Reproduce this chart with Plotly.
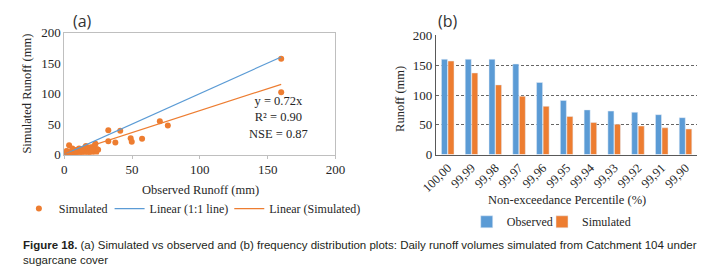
import plotly.graph_objects as go

# ---------------- data ----------------
# Panel (a): observed vs simulated daily runoff (mm)
obs_runoff = [160, 160, 70.5, 76.4, 32.5, 41.3, 32.5, 37.7, 49, 49.8, 57.4,
              3.6, 16, 23, 25,
              0.5, 1, 1.5, 2, 2.5, 3, 4, 4.5, 5, 5.5, 6, 6.5, 7, 7.5, 8, 8.5,
              9, 9.5, 10, 10.5, 11, 12, 12.5, 13, 14, 14.5, 15, 15.5, 16.5,
              17, 17.5, 18, 18.5, 19, 19.5, 20, 20.5, 21, 21.5, 22, 22.5,
              23.5, 24, 1, 2, 0.3, 6, 8, 11, 13, 3, 5, 18, 20, 21]
sim_runoff = [157, 102, 54.8, 47.6, 40, 39, 21.7, 20, 27, 21, 26,
              15.5, 14, 18, 8,
              0.3, 1, 0.5, 2, 1, 4, 2, 0.5, 3, 5, 1, 2, 6, 3, 0.5, 4,
              2, 8, 5, 1, 3, 7, 2, 4, 9, 1, 5, 12, 3,
              8, 6, 10, 4, 7, 12, 2, 9, 5, 11, 14, 7,
              3, 9, 5, 6, 3, 10, 7, 10, 8, 0.2, 0.4, 2, 6, 9]
line_x = [0, 160]
one_to_one_y = [0, 160]
fit_slope = 0.72
fit_y = [fit_slope * v for v in line_x]

# Panel (b): frequency distribution
percentiles = ["100,00", "99,99", "99,98", "99,97", "99,96", "99,95",
               "99,94", "99,93", "99,92", "99,91", "99,90"]
observed = [160, 160, 160, 152, 121, 91, 75, 73, 71, 67, 62]
simulated = [157, 137, 117, 98, 81, 64, 54, 51, 48, 45, 43]

BLUE = "#5B9BD5"
ORANGE = "#ED7D31"
SERIF = "Liberation Serif, Times New Roman, serif"
TXT = "#262626"

W, H = 719, 279

def px(x):
    return x / W

def py(y):
    return 1 - y / H

fig = go.Figure()

# ---- panel (a) ----
fig.add_trace(go.Scatter(x=obs_runoff, y=sim_runoff, mode="markers",
                         marker=dict(color=ORANGE, size=6),
                         name="Simulated", xaxis="x", yaxis="y", legend="legend"))
fig.add_trace(go.Scatter(x=line_x, y=one_to_one_y, mode="lines",
                         line=dict(color=BLUE, width=1.2),
                         name="Linear (1:1 line)", xaxis="x", yaxis="y", legend="legend3"))
fig.add_trace(go.Scatter(x=line_x, y=fit_y, mode="lines",
                         line=dict(color=ORANGE, width=1.2),
                         name="Linear (Simulated)", xaxis="x", yaxis="y", legend="legend4"))

# ---- panel (b) ----
fig.add_trace(go.Bar(x=percentiles, y=observed, name="Observed", marker_color=BLUE,
                     xaxis="x2", yaxis="y2", legend="legend2"))
fig.add_trace(go.Bar(x=percentiles, y=simulated, name="Simulated", marker_color=ORANGE,
                     xaxis="x2", yaxis="y2", legend="legend5"))

axis_font = dict(family=SERIF, size=13, color=TXT)
xcat_font = dict(family=SERIF, size=12.5, color=TXT)
leg_font = dict(family=SERIF, size=12, color=TXT)

def leg(xpx, ypx):
    return dict(orientation="h", x=px(xpx), y=py(ypx), xanchor="left", yanchor="middle",
                font=leg_font, bgcolor="rgba(0,0,0,0)", itemwidth=30, borderwidth=0)

fig.update_layout(
    width=W, height=H,
    margin=dict(l=0, r=0, t=0, b=0),
    paper_bgcolor="white", plot_bgcolor="white",
    barmode="group", bargap=0.45, bargroupgap=0.08,
    xaxis=dict(domain=[px(51), px(332)], range=[0, 200], tickvals=[0, 50, 100, 150, 200],
               showgrid=False, zeroline=False, showline=True, linecolor="#bfbfbf",
               mirror=True, ticks="outside", ticklen=3, tickcolor="#bfbfbf",
               tickfont=axis_font, anchor="y"),
    yaxis=dict(domain=[py(156), py(27)], range=[0, 200], tickvals=[0, 50, 100, 150, 200],
               showgrid=False, zeroline=False, showline=True, linecolor="#bfbfbf",
               mirror=True, ticks="", tickfont=axis_font, anchor="x"),
    xaxis2=dict(domain=[px(436), px(707)], tickangle=-45, tickfont=xcat_font,
                showline=True, linecolor="#595959", showgrid=False, ticks="",
                anchor="y2"),
    yaxis2=dict(domain=[py(156), py(29.4)], range=[0, 201], tickvals=[0, 50, 100, 150, 200],
                showgrid=True, gridcolor="#666666", griddash="3px,2px", gridwidth=1,
                zeroline=False, showline=True, linecolor="#595959",
                tickfont=axis_font, anchor="x2"),
    legend=leg(4, 213),
    legend3=leg(98, 213),
    legend4=leg(222, 213),
    legend2=leg(468, 227),
    legend5=leg(546, 227),
    showlegend=True,
)

ann = [
    dict(text="(a)", x=px(70), y=py(15), font=dict(family="Open Sans, sans-serif", size=16, color="#333")),
    dict(text="(b)", x=px(449), y=py(15), font=dict(family="Open Sans, sans-serif", size=16, color="#333")),
    dict(text="Simulated Runoff (mm)", x=px(13), y=py(92), textangle=-90,
         font=dict(family=SERIF, size=12.5, color=TXT)),
    dict(text="Observed Runoff (mm)", x=px(192), y=py(193),
         font=dict(family=SERIF, size=12.5, color=TXT)),
    dict(text="Runoff (mm)", x=px(399), y=py(97), textangle=-90,
         font=dict(family=SERIF, size=12.5, color=TXT)),
    dict(text="Non-exceedance Percentile (%)", x=px(571.5), y=py(204),
         font=dict(family=SERIF, size=12.5, color=TXT)),
    dict(text="y = 0.72x<br>R² = 0.90<br>NSE = 0.87", x=158, y=60, xref="x", yref="y",
         align="center", font=dict(family=SERIF, size=12.5, color=TXT)),
    dict(text="<b>Figure 18.</b> (a) Simulated vs observed and (b) frequency distribution plots: "
              "Daily runoff volumes simulated from Catchment 104 under<br>sugarcane cover",
         x=px(6), y=py(259), xanchor="left", align="left",
         font=dict(family="Liberation Sans Narrow, Arial Narrow, Liberation Sans, sans-serif",
                   size=11.5, color="#231f20")),
]
for a in ann:
    a.setdefault("xref", "paper")
    a.setdefault("yref", "paper")
    a.setdefault("showarrow", False)
    if "xanchor" not in a:
        a["xanchor"] = "center"
    a["yanchor"] = "middle"
fig.update_layout(annotations=ann)

fig.write_html("out.html", config={"displayModeBar": False},
               post_script="document.body.style.margin='0';document.body.style.overflow='hidden';")
